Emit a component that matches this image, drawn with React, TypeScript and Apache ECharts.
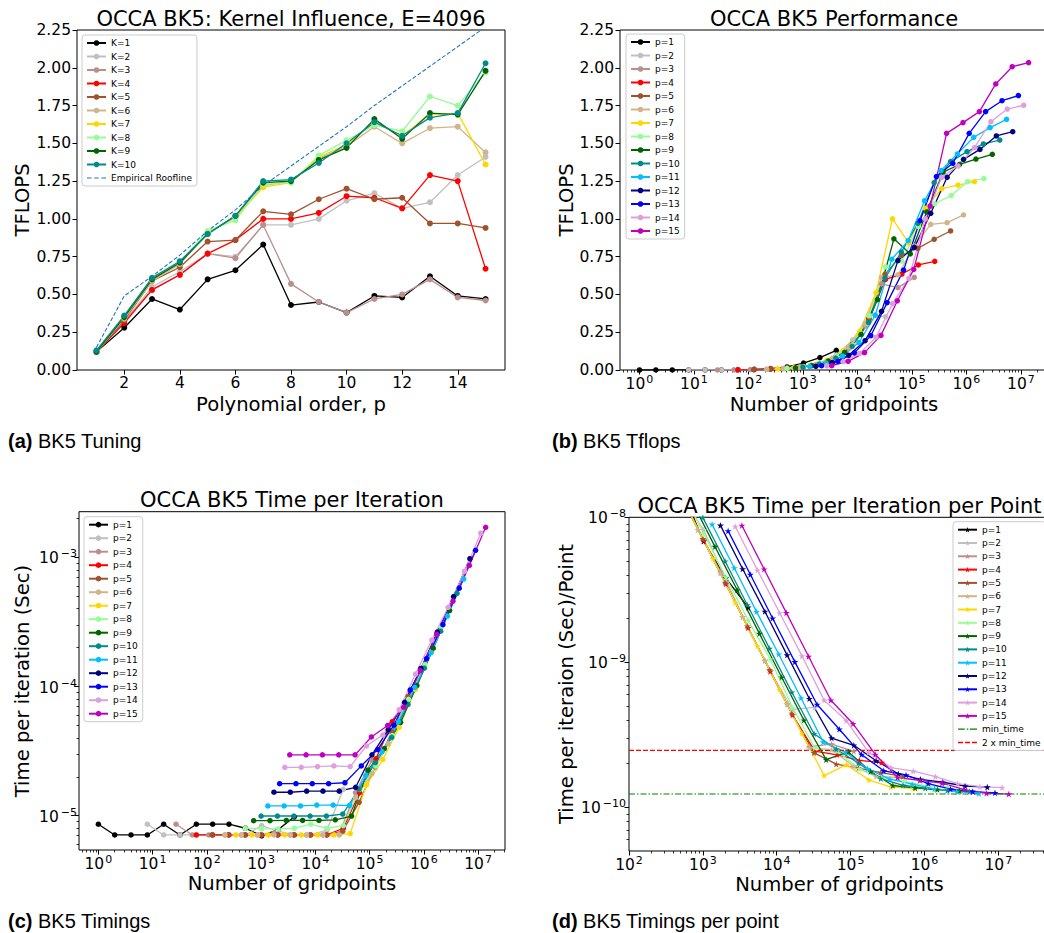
import React, { useEffect, useRef } from "react";
import * as echarts from "echarts";

const FONT = "DejaVu Sans";
const CAPTION_FONT = "Liberation Sans";

const SERIES_COLORS = [
  "#000000", "#c0c0c0", "#bc8f8f", "#ff0000", "#a0522d", "#d2b48c", "#ffd700", "#98fb98",
  "#006400", "#008b8b", "#00bfff", "#000080", "#0000ff", "#dda0dd", "#bf00bf",
];
const ROOFLINE_COLOR = "#1f77b4";

// ---------- Panel (a): kernel tuning, E = 4096 ----------
const POLY_ORDERS = [1, 2, 3, 4, 5, 6, 7, 8, 9, 10, 11, 12, 13, 14, 15];
const KERNEL_LABELS = ["K=1", "K=2", "K=3", "K=4", "K=5", "K=6", "K=7", "K=8", "K=9", "K=10"];
const TFLOPS_K1 = [0.12, 0.28, 0.47, 0.4, 0.6, 0.66, 0.83, 0.43, 0.45, 0.38, 0.49, 0.48, 0.62, 0.49, 0.47];
const TFLOPS_K2 = [0.12, 0.32, 0.55, 0.65, 0.77, 0.75, 0.96, 0.96, 1.0, 1.12, 1.17, 1.07, 1.11, 1.29, 1.41];
const TFLOPS_K3 = [0.12, 0.32, 0.53, 0.63, 0.77, 0.74, 0.96, 0.57, 0.45, 0.38, 0.47, 0.5, 0.6, 0.48, 0.46];
const TFLOPS_K4 = [0.12, 0.31, 0.53, 0.63, 0.77, 0.86, 1.0, 1.0, 1.04, 1.15, 1.14, 1.07, 1.29, 1.25, 0.67];
const TFLOPS_K5 = [0.12, 0.33, 0.59, 0.68, 0.85, 0.86, 1.05, 1.03, 1.13, 1.2, 1.13, 1.14, 0.97, 0.97, 0.94];
const TFLOPS_K6 = [0.12, 0.34, 0.59, 0.7, 0.91, 1.01, 1.22, 1.25, 1.4, 1.48, 1.61, 1.5, 1.6, 1.61, 1.44];
const TFLOPS_K7 = [0.12, 0.35, 0.6, 0.71, 0.91, 1.01, 1.21, 1.24, 1.41, 1.49, 1.64, 1.55, 1.69, 1.7, 1.36];
const TFLOPS_K8 = [0.12, 0.35, 0.61, 0.71, 0.92, 0.99, 1.23, 1.24, 1.42, 1.52, 1.62, 1.58, 1.81, 1.75, 1.97];
const TFLOPS_K9 = [0.12, 0.35, 0.6, 0.71, 0.9, 1.02, 1.24, 1.25, 1.39, 1.47, 1.66, 1.53, 1.7, 1.69, 1.98];
const TFLOPS_K10 = [0.13, 0.36, 0.61, 0.72, 0.9, 1.02, 1.25, 1.26, 1.37, 1.5, 1.64, 1.55, 1.67, 1.7, 2.03];
const ROOFLINE = [0.15, 0.49, 0.62, 0.76, 0.92, 1.06, 1.22, 1.35, 1.48, 1.61, 1.75, 1.88, 2.01, 2.14, 2.27];
const TUNING = [TFLOPS_K1, TFLOPS_K2, TFLOPS_K3, TFLOPS_K4, TFLOPS_K5, TFLOPS_K6, TFLOPS_K7, TFLOPS_K8, TFLOPS_K9, TFLOPS_K10];

// ---------- Panels (b)-(d): element sweep, gridpoints = E * p^3 ----------
const ELEMENTS = [1, 2, 4, 8, 16, 32, 64, 128, 256, 512, 1024, 2048, 4096];
const ORDER_LABELS = POLY_ORDERS.map((p) => `p=${p}`);

const TFLOPS_P1 = [0.00004, 0.00009, 0.00018, 0.00035, 0.00058, 0.0014, 0.0023, 0.0046, 0.0093, 0.02, 0.046, 0.082, 0.13];
const TFLOPS_P2 = [0.00016, 0.00039, 0.00078, 0.0016, 0.0031, 0.0062, 0.0124, 0.021, 0.046, 0.099, 0.199, 0.364, 0.352];
const TFLOPS_P3 = [0.00047, 0.0011, 0.0023, 0.0045, 0.0091, 0.018, 0.035, 0.073, 0.145, 0.291, 0.57, 0.545, 0.613];
const TFLOPS_P4 = [0.0013, 0.0026, 0.0053, 0.0106, 0.021, 0.042, 0.085, 0.169, 0.338, 0.6, 0.635, 0.695, 0.719];
const TFLOPS_P5 = [0.0026, 0.0053, 0.0106, 0.021, 0.042, 0.085, 0.169, 0.339, 0.633, 0.76, 0.805, 0.865, 0.92];
const TFLOPS_P6 = [0.0048, 0.0096, 0.019, 0.038, 0.077, 0.153, 0.306, 0.612, 0.63, 0.82, 0.964, 0.975, 1.026];
const TFLOPS_P7 = [0.008, 0.016, 0.032, 0.064, 0.128, 0.256, 0.512, 1.0, 0.84, 1.07, 1.2, 1.224, 1.246];
const TFLOPS_P8 = [0.0112, 0.0227, 0.0454, 0.09, 0.167, 0.359, 0.683, 0.72, 0.95, 1.1, 1.154, 1.246, 1.266];
const TFLOPS_P9 = [0.0148, 0.0295, 0.059, 0.117, 0.235, 0.465, 0.868, 0.768, 1.046, 1.31, 1.36, 1.396, 1.427];
const TFLOPS_P10 = [0.0197, 0.0393, 0.0787, 0.157, 0.315, 0.608, 0.78, 0.97, 1.24, 1.379, 1.445, 1.496, 1.522];
const TFLOPS_P11 = [0.0231, 0.0462, 0.0923, 0.182, 0.363, 0.733, 0.856, 1.12, 1.32, 1.43, 1.54, 1.604, 1.659];
const TFLOPS_P12 = [0.0247, 0.0494, 0.097, 0.194, 0.388, 0.724, 0.812, 1.037, 1.275, 1.394, 1.46, 1.549, 1.577];
const TFLOPS_P13 = [0.0284, 0.0567, 0.1135, 0.227, 0.446, 0.661, 0.988, 1.28, 1.368, 1.566, 1.71, 1.782, 1.816];
const TFLOPS_P14 = [0.0278, 0.0555, 0.11, 0.217, 0.439, 0.607, 1.0, 1.275, 1.35, 1.471, 1.643, 1.727, 1.752];
const TFLOPS_P15 = [0.0286, 0.0573, 0.115, 0.229, 0.458, 0.666, 1.085, 1.566, 1.637, 1.71, 1.893, 2.007, 2.034];
const TFLOPS_BY_ORDER = [
  TFLOPS_P1, TFLOPS_P2, TFLOPS_P3, TFLOPS_P4, TFLOPS_P5, TFLOPS_P6, TFLOPS_P7, TFLOPS_P8,
  TFLOPS_P9, TFLOPS_P10, TFLOPS_P11, TFLOPS_P12, TFLOPS_P13, TFLOPS_P14, TFLOPS_P15,
];

// time per iteration, microseconds
const TIME_US_P1 = [8.6, 7.1, 7.1, 7.1, 8.6, 7.1, 8.6, 8.6, 8.6, 8.0, 7.0, 7.8, 9.8];
const TIME_US_P2 = [8.6, 7.1, 7.1, 7.1, 7.1, 7.1, 7.1, 8.4, 7.6, 7.1, 7.1, 7.75, 16.0];
const TIME_US_P3 = [8.6, 7.1, 7.1, 7.1, 7.1, 7.1, 7.3, 7.1, 7.1, 7.1, 7.24, 15.1, 26.9];
const TIME_US_P4 = [7.1, 7.1, 7.1, 7.1, 7.1, 7.1, 7.1, 7.1, 7.1, 8.0, 15.1, 27.6, 53.4];
const TIME_US_P5 = [7.1, 7.1, 7.1, 7.1, 7.1, 7.1, 7.1, 7.1, 7.6, 12.7, 23.9, 44.5, 83.6];
const TIME_US_P6 = [7.1, 7.1, 7.1, 7.1, 7.1, 7.1, 7.1, 7.1, 13.8, 21.2, 36.1, 71.3, 135.6];
const TIME_US_P7 = [7.1, 7.1, 7.1, 7.1, 7.1, 7.1, 7.1, 7.27, 17.3, 27.2, 48.5, 95.1, 186.8];
const TIME_US_P8 = [8.0, 7.9, 7.9, 8.0, 8.6, 8.0, 8.4, 16.0, 24.2, 41.7, 79.6, 147.4, 290.0];
const TIME_US_P9 = [9.15, 9.15, 9.2, 9.2, 9.2, 9.3, 9.95, 22.5, 33.0, 52.8, 101.7, 198.1, 387.5];
const TIME_US_P10 = [9.95, 9.95, 9.95, 9.95, 9.95, 10.3, 16.1, 25.8, 40.4, 72.7, 138.7, 267.9, 526.7];
const TIME_US_P11 = [11.9, 11.9, 11.9, 12.1, 12.1, 12.0, 20.5, 31.4, 53.3, 98.4, 182.7, 350.8, 678.3];
const TIME_US_P12 = [15.2, 15.2, 15.5, 15.5, 15.5, 16.6, 29.6, 46.4, 75.4, 138.0, 263.5, 496.7, 975.7];
const TIME_US_P13 = [17.7, 17.7, 17.7, 17.7, 18.0, 24.3, 32.5, 50.2, 94.0, 164.2, 300.8, 577.2, 1132.8];
const TIME_US_P14 = [23.7, 23.7, 24.0, 24.3, 24.0, 34.7, 42.1, 66.1, 124.8, 229.0, 410.1, 780.3, 1538.4];
const TIME_US_P15 = [29.6, 29.6, 29.6, 29.6, 29.6, 40.7, 50.0, 69.3, 132.6, 253.8, 458.6, 865.1, 1707.3];
const TIME_US_BY_ORDER = [
  TIME_US_P1, TIME_US_P2, TIME_US_P3, TIME_US_P4, TIME_US_P5, TIME_US_P6, TIME_US_P7, TIME_US_P8,
  TIME_US_P9, TIME_US_P10, TIME_US_P11, TIME_US_P12, TIME_US_P13, TIME_US_P14, TIME_US_P15,
];

const MIN_TIME = 1.236e-10;

// axis limits
const A_X = [0.3, 15.7];
const A_X_TICKS = [2, 4, 6, 8, 10, 12, 14];
const TF_Y = [0, 2.25];
const B_X = [0.4395, 3.14e7];
const C_Y = [5.43e-6, 2.254e-3];
const D_X = [1e2, 5e7];
const D_Y = [5e-11, 1e-8];

const STAR =
  "path://M0,-10L2.245,-3.09L9.511,-3.09L3.633,1.18L5.878,8.09L0,3.82L-5.878,8.09L-3.633,1.18L-9.511,-3.09L-2.245,-3.09Z";
const DASH_ICON = "path://M0,0h4.5v1.2h-4.5z M7,0h4.5v1.2h-4.5z M14,0h4.5v1.2h-4.5z";
const RED_DASH_ICON = "path://M0,0h5v1.3h-5z M7,0h5v1.3h-5z M14,0h5v1.3h-5z";
const DASHDOT_ICON = "path://M0,0h6.5v1.3h-6.5z M8.5,0h1.5v1.3h-1.5z M11.5,0h7v1.3h-7z";

function decades(lo: number, hi: number) {
  const out: number[] = [];
  for (let e = -14; e <= 9; e++) {
    const v = Math.pow(10, e);
    if (v >= lo * 0.999999 && v <= hi * 1.000001) out.push(v);
  }
  return out;
}
function minors(lo: number, hi: number) {
  const out: number[] = [];
  for (let e = -14; e <= 9; e++) {
    for (let m = 2; m <= 9; m++) {
      const v = m * Math.pow(10, e);
      if (v >= lo && v <= hi) out.push(v);
    }
  }
  return out;
}

function logLabel(v: number) {
  const e = Math.round(Math.log10(v));
  return e < 0 ? `{b|10}{n|\u2212${Math.abs(e)}}` : `{b|10}{e|${e}}`;
}
const RICH = {
  b: { fontSize: 15.5, fontFamily: FONT, color: "#000", lineHeight: 18, verticalAlign: "bottom" },
  e: { fontSize: 11, fontFamily: FONT, color: "#000", lineHeight: 11, verticalAlign: "top", padding: [0, 0, 0, 1] },
  n: { fontSize: 11, fontFamily: FONT, color: "#000", lineHeight: 11, verticalAlign: "top", padding: [0, 0, 0, 2] },
};

const TICK = { show: true, inside: false, length: 4.5, lineStyle: { color: "#000", width: 1 } };
const MINOR_TICK = { show: true, inside: false, length: 2.5, lineStyle: { color: "#000", width: 0.8 } };

function linearY(gridIndex: number) {
  return {
    type: "value", gridIndex, min: TF_Y[0], max: TF_Y[1], interval: 0.25,
    axisLine: { show: false }, splitLine: { show: false },
    axisTick: TICK,
    axisLabel: { color: "#000", fontFamily: FONT, fontSize: 15.5, margin: 6, formatter: (v: number) => v.toFixed(2) },
  };
}
function logMajor(dim: "x" | "y", gridIndex: number, range: number[], margin: number) {
  const majors = decades(range[0], range[1]);
  return {
    type: "log", logBase: 10, gridIndex, min: range[0], max: range[1],
    position: dim === "x" ? "bottom" : "left",
    axisLine: { show: false }, splitLine: { show: false }, minorTick: { show: false },
    axisTick: { ...TICK, customValues: majors },
    axisLabel: { show: true, customValues: majors, margin, formatter: logLabel, rich: RICH, color: "#000" },
  };
}
function logMinor(dim: "x" | "y", gridIndex: number, range: number[]) {
  return {
    type: "log", logBase: 10, gridIndex, min: range[0], max: range[1],
    position: dim === "x" ? "bottom" : "left",
    axisLine: { show: false }, splitLine: { show: false }, axisLabel: { show: false },
    axisTick: { ...MINOR_TICK, customValues: minors(range[0], range[1]) },
  };
}

function gridpoints(p: number) {
  return ELEMENTS.map((e) => e * p * p * p);
}

function buildOption() {
  const series: any[] = [];
  const base = { type: "line", emphasis: { disabled: true }, clip: true, animation: false };

  KERNEL_LABELS.forEach((label, i) => {
    const color = SERIES_COLORS[i];
    series.push({
      ...base, name: "a:" + label, xAxisIndex: 0, yAxisIndex: 0, color,
      symbol: "circle", symbolSize: 6, itemStyle: { color }, lineStyle: { color, width: 1.3 },
      data: POLY_ORDERS.map((p, j) => [p, TUNING[i][j]]),
    });
  });
  series.push({
    ...base, name: "a:Empirical Roofline", xAxisIndex: 0, yAxisIndex: 0, color: ROOFLINE_COLOR,
    symbol: "none", itemStyle: { color: ROOFLINE_COLOR },
    lineStyle: { color: ROOFLINE_COLOR, width: 1.1, type: [4, 2] },
    data: POLY_ORDERS.map((p, j) => [p, ROOFLINE[j]]),
  });

  POLY_ORDERS.forEach((p, i) => {
    const color = SERIES_COLORS[i];
    const n = gridpoints(p);
    series.push({
      ...base, name: "b:" + ORDER_LABELS[i], xAxisIndex: 1, yAxisIndex: 1, color,
      symbol: "circle", symbolSize: 5.5, itemStyle: { color }, lineStyle: { color, width: 1.3 },
      data: n.map((x, k) => [x, TFLOPS_BY_ORDER[i][k]]),
    });
  });

  POLY_ORDERS.forEach((p, i) => {
    const color = SERIES_COLORS[i];
    const n = gridpoints(p);
    series.push({
      ...base, name: "c:" + ORDER_LABELS[i], xAxisIndex: 3, yAxisIndex: 2, color,
      symbol: "circle", symbolSize: 5.5, itemStyle: { color }, lineStyle: { color, width: 1.3 },
      data: n.map((x, k) => [x, TIME_US_BY_ORDER[i][k] * 1e-6]),
    });
  });

  POLY_ORDERS.forEach((p, i) => {
    const color = SERIES_COLORS[i];
    const n = gridpoints(p);
    series.push({
      ...base, name: "d:" + ORDER_LABELS[i], xAxisIndex: 5, yAxisIndex: 4, color,
      symbol: STAR, symbolSize: 7, symbolKeepAspect: true, itemStyle: { color }, lineStyle: { color, width: 1.3 },
      data: n.map((x, k) => [x, (TIME_US_BY_ORDER[i][k] * 1e-6) / x]),
    });
  });
  series.push({
    ...base, name: "d:min_time", xAxisIndex: 5, yAxisIndex: 4, color: "#008000", symbol: "none",
    itemStyle: { color: "#008000" }, lineStyle: { color: "#008000", width: 1.2, type: [6, 2, 1.5, 2] },
    data: [[D_X[0], MIN_TIME], [D_X[1], MIN_TIME]],
  });
  series.push({
    ...base, name: "d:2 x min_time", xAxisIndex: 5, yAxisIndex: 4, color: "#ff0000", symbol: "none",
    itemStyle: { color: "#ff0000" }, lineStyle: { color: "#ff0000", width: 1.2, type: [5, 2] },
    data: [[D_X[0], 2 * MIN_TIME], [D_X[1], 2 * MIN_TIME]],
  });

  const legendBase = {
    orient: "vertical", itemWidth: 19, itemHeight: 7, itemGap: 4.5, padding: [3.5, 5, 3.5, 4],
    backgroundColor: "rgba(255,255,255,0.8)", borderColor: "#cccccc", borderWidth: 1, borderRadius: 3,
    textStyle: { fontSize: 9, fontFamily: FONT, color: "#000" }, selectedMode: false,
    formatter: (name: string) => name.slice(2),
  };

  const grids = [
    { left: 77, top: 30, width: 428, height: 340 },
    { left: 620, top: 30, width: 428, height: 340 },
    { left: 79, top: 511.7, width: 426, height: 338.3 },
    { left: 629, top: 517.3, width: 421, height: 333.7 },
  ].map((g) => ({ ...g, show: true, borderColor: "#000", borderWidth: 1, backgroundColor: "transparent", containLabel: false }));

  const txt = (text: string, x: number, y: number, size: number, rot = 0, align = "center") => ({
    type: "text", x, y, rotation: rot, silent: true,
    style: { text, fill: "#000", fontSize: size, fontFamily: FONT, textAlign: align, textVerticalAlign: "middle", verticalAlign: "middle" },
  });
  const caption = (tag: string, rest: string, x: number, y: number) => ({
    type: "text", x, y, silent: true,
    style: {
      text: `{t|${tag}}{r| ${rest}}`, fill: "#000", fontSize: 20, fontFamily: CAPTION_FONT,
      textAlign: "left", textVerticalAlign: "middle", verticalAlign: "middle",
      rich: {
        t: { fontWeight: "bold", fontSize: 20, fontFamily: CAPTION_FONT, fill: "#000" },
        r: { fontSize: 20, fontFamily: CAPTION_FONT, fill: "#000" },
      },
    },
  });

  return {
    animation: false,
    backgroundColor: "#ffffff",
    textStyle: { fontFamily: FONT },
    grid: grids,
    xAxis: [
      {
        type: "value", gridIndex: 0, min: A_X[0], max: A_X[1],
        axisLine: { show: false }, splitLine: { show: false },
        axisTick: { ...TICK, customValues: A_X_TICKS },
        axisLabel: { show: true, customValues: A_X_TICKS, color: "#000", fontFamily: FONT, fontSize: 15.5, margin: 5 },
      },
      logMajor("x", 1, B_X, 4),
      logMinor("x", 1, B_X),
      logMajor("x", 2, B_X, 4),
      logMinor("x", 2, B_X),
      logMajor("x", 3, D_X, 4),
      logMinor("x", 3, D_X),
    ],
    yAxis: [
      linearY(0),
      linearY(1),
      logMajor("y", 2, C_Y, 2),
      logMinor("y", 2, C_Y),
      logMajor("y", 3, D_Y, 3),
      logMinor("y", 3, D_Y),
    ],
    legend: [
      {
        ...legendBase, left: 82, top: 35,
        data: [...KERNEL_LABELS.map((l) => "a:" + l), { name: "a:Empirical Roofline", icon: DASH_ICON }],
      },
      { ...legendBase, left: 626, top: 34, data: ORDER_LABELS.map((l) => "b:" + l) },
      { ...legendBase, left: 84, top: 516.7, data: ORDER_LABELS.map((l) => "c:" + l) },
      {
        ...legendBase, left: 953, top: 521.7, itemGap: 4.3,
        data: [
          ...ORDER_LABELS.map((l) => "d:" + l),
          { name: "d:min_time", icon: DASHDOT_ICON },
          { name: "d:2 x min_time", icon: RED_DASH_ICON },
        ],
      },
    ],
    graphic: [
      txt("OCCA BK5: Kernel Influence, E=4096", 291, 18.7, 21),
      txt("OCCA BK5 Performance", 834, 18.7, 21),
      txt("OCCA BK5 Time per Iteration", 292, 499.7, 21),
      txt("OCCA BK5 Time per Iteration per Point", 839.5, 505.7, 21),
      txt("Polynomial order, p", 291, 404.5, 19.6),
      txt("Number of gridpoints", 834, 404.5, 19.6),
      txt("Number of gridpoints", 292, 883, 19.6),
      txt("Number of gridpoints", 839.5, 884, 19.6),
      txt("TFLOPS", 22.5, 200, 19.6, Math.PI / 2),
      txt("TFLOPS", 566.5, 200, 19.6, Math.PI / 2),
      txt("Time per iteration (Sec)", 22.5, 681, 19.6, Math.PI / 2),
      txt("Time per iteraion (Sec)/Point", 566.5, 684, 19.6, Math.PI / 2),
      caption("(a)", "BK5 Tuning", 8, 441),
      caption("(b)", "BK5 Tflops", 552, 441),
      caption("(c)", "BK5 Timings", 8, 921),
      caption("(d)", "BK5 Timings per point", 552, 921),
    ],
    series,
  };
}

export default function App() {
  const ref = useRef<HTMLDivElement>(null);
  useEffect(() => {
    if (!ref.current) return;
    const chart = echarts.init(ref.current, null, { renderer: "svg" });
    chart.setOption(buildOption() as any);
    return () => chart.dispose();
  }, []);
  return (
    <div style={{ position: "fixed", left: 0, top: 0, width: 1044, height: 933, overflow: "hidden", background: "#fff" }}>
      <div ref={ref} style={{ width: 1100, height: 933 }} />
    </div>
  );
}
